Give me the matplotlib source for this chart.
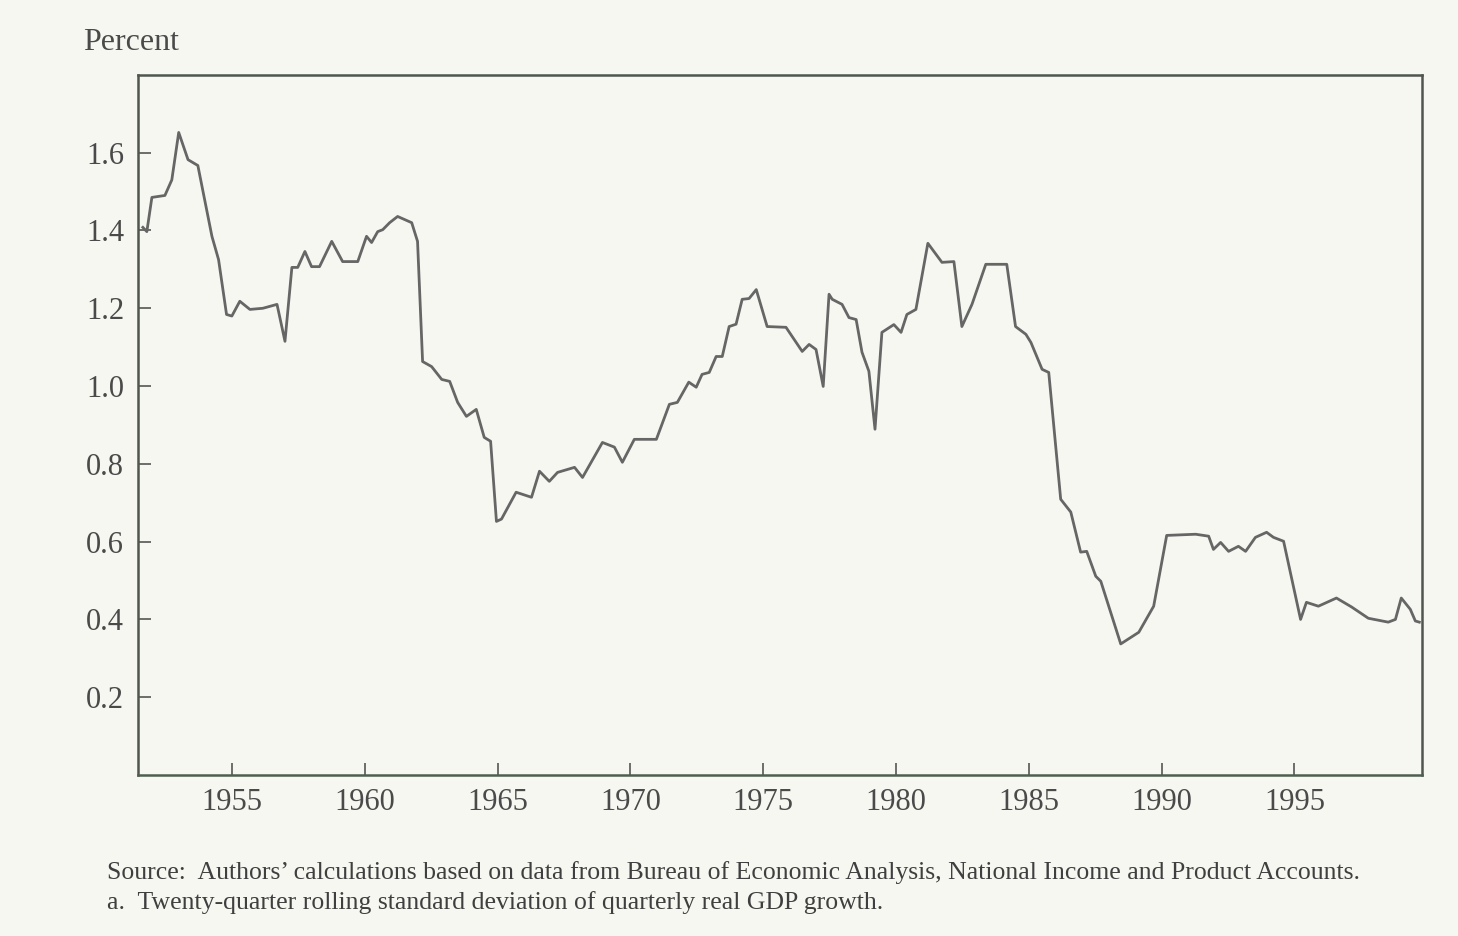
import numpy as np
import matplotlib
matplotlib.use("Agg")
import matplotlib.pyplot as plt

# values (year, percent)
years = [1951.65, 1951.8, 1951.99, 1952.48, 1952.74, 1953.0, 1953.35, 1953.72,
         1954.25, 1954.5, 1954.8, 1955.0, 1955.3, 1955.68, 1956.17, 1956.7,
         1957.0, 1957.26, 1957.48, 1957.75, 1958.0, 1958.3, 1958.76, 1959.17,
         1959.74, 1960.07, 1960.26, 1960.49, 1960.68, 1960.94, 1961.24, 1961.77,
         1961.99, 1962.18, 1962.52, 1962.9, 1963.2, 1963.5, 1963.83, 1964.2,
         1964.5, 1964.74, 1964.96, 1965.15, 1965.7, 1966.28, 1966.58, 1966.95,
         1967.26, 1967.9, 1968.2, 1968.95, 1969.4, 1969.7, 1970.15, 1970.98,
         1971.47, 1971.77, 1972.2, 1972.48, 1972.7, 1972.97, 1973.23, 1973.46,
         1973.72, 1973.98, 1974.21, 1974.47, 1974.74, 1975.15, 1975.86, 1976.47,
         1976.73, 1976.99, 1977.26, 1977.48, 1977.6, 1977.97, 1978.23, 1978.5,
         1978.72, 1978.98, 1979.21, 1979.47, 1979.92, 1980.19, 1980.41, 1980.75,
         1981.2, 1981.73, 1982.18, 1982.48, 1982.86, 1983.38, 1984.17, 1984.5,
         1984.89, 1985.08, 1985.5, 1985.75, 1986.2, 1986.58, 1986.95, 1987.18,
         1987.52, 1987.71, 1988.46, 1989.14, 1989.7, 1990.19, 1991.28, 1991.77,
         1991.95, 1992.22, 1992.52, 1992.89, 1993.16, 1993.53, 1993.95, 1994.21,
         1994.59, 1995.23, 1995.45, 1995.9, 1996.58, 1997.15, 1997.78, 1998.53,
         1998.8, 1999.02, 1999.36, 1999.55, 1999.7]
percent = [1.408, 1.397, 1.485, 1.49, 1.53, 1.652, 1.582, 1.567,
           1.385, 1.325, 1.184, 1.18, 1.218, 1.197, 1.2, 1.21,
           1.115, 1.305, 1.305, 1.346, 1.307, 1.307, 1.372, 1.32,
           1.32, 1.385, 1.369, 1.397, 1.402, 1.42, 1.436, 1.42,
           1.372, 1.063, 1.05, 1.017, 1.012, 0.958, 0.922, 0.94,
           0.868, 0.858, 0.652, 0.658, 0.727, 0.714, 0.781, 0.755,
           0.778, 0.791, 0.765, 0.855, 0.843, 0.804, 0.863, 0.863,
           0.953, 0.958, 1.01, 0.997, 1.03, 1.035, 1.076, 1.076,
           1.153, 1.159, 1.223, 1.225, 1.248, 1.153, 1.151, 1.089,
           1.107, 1.094, 0.999, 1.236, 1.223, 1.21, 1.176, 1.171,
           1.087, 1.038, 0.889, 1.138, 1.158, 1.138, 1.184, 1.197,
           1.367, 1.318, 1.32, 1.153, 1.21, 1.313, 1.313, 1.153,
           1.133, 1.112, 1.043, 1.035, 0.709, 0.676, 0.573, 0.575,
           0.511, 0.498, 0.337, 0.367, 0.434, 0.616, 0.619, 0.614,
           0.58, 0.598, 0.575, 0.588, 0.575, 0.611, 0.624, 0.611,
           0.601, 0.4, 0.444, 0.434, 0.455, 0.432, 0.403, 0.393,
           0.4, 0.455, 0.426, 0.396, 0.393]

xticks = [1955, 1960, 1965, 1970, 1975, 1980, 1985, 1990, 1995]
yticks = [0.2, 0.4, 0.6, 0.8, 1.0, 1.2, 1.4, 1.6]

bg = "#f7f7f2"
ink = "#555555"
plt.rcParams["font.family"] = ["Liberation Serif", "DejaVu Serif"]

fig = plt.figure(figsize=(14.58, 9.36), dpi=100, facecolor=bg)
ax = fig.add_axes([0.0947, 0.172, 0.8806, 0.748])
ax.set_facecolor(bg)

ax.plot(years, percent, color="#666666", linewidth=2.0)

ax.set_xlim(1951.47, 1999.8)
ax.set_ylim(0, 1.8)
ax.set_xticks(xticks)
ax.set_yticks(yticks)
ax.set_yticklabels(["%.1f" % v for v in yticks])
ax.tick_params(direction="in", length=9, width=1.2, colors=ink,
               labelsize=22, labelcolor="#4a4a4a")
ax.tick_params(axis="x", pad=9)
ax.tick_params(axis="y", pad=10)
for s in ax.spines.values():
    s.set_color("#505550")
    s.set_linewidth(1.8)
ax.spines["bottom"].set_color("#4f5f4f")

fig.text(0.057, 0.955, "Percent", fontsize=23, color="#4a4a4a", va="center")
fig.text(0.0734, 0.0673,
         "Source:  Authors\u2019 calculations based on data from Bureau of Economic Analysis, National Income and Product Accounts.",
         fontsize=18.5, color="#3f3f3f", va="center")
fig.text(0.0734, 0.0353,
         "a.  Twenty-quarter rolling standard deviation of quarterly real GDP growth.",
         fontsize=18.5, color="#3f3f3f", va="center")

fig.savefig("out.png", dpi=100, facecolor=bg)
